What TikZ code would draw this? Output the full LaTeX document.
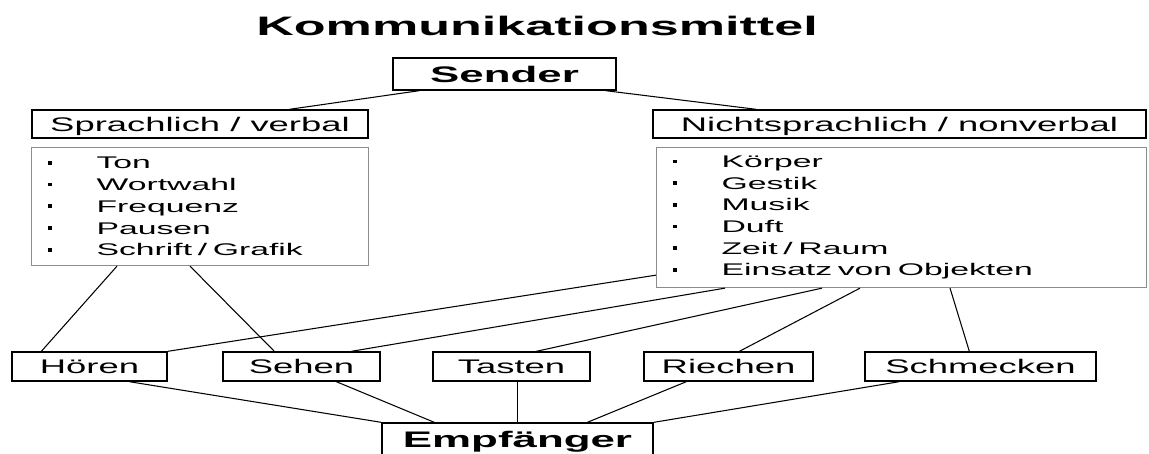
\documentclass[tikz,border=0pt]{standalone}
\usepackage{fontspec}
\setmainfont{Liberation Sans}[FakeStretch=1.85,BoldFeatures={FakeStretch=1.95}]
\newfontfamily\listfont{Liberation Sans}[FakeStretch=2.0]
\usepackage{tikz}
\definecolor{listgray}{gray}{0.55}
\newcommand{\itm}{\makebox[12.25mm][l]{\rule[1.05mm]{1.2mm}{0.9mm}}}

\begin{document}
\begin{tikzpicture}[x=0.25mm, y=-0.25mm,
  box/.style={draw, line width=0.95pt, inner sep=0pt, font=\fontsize{14pt}{16pt}\selectfont, text height=10pt, text depth=0pt},
  head/.style={box, font=\bfseries\fontsize{16pt}{18pt}\selectfont, text height=11.5pt},
  liste/.style={draw=listgray, line width=0.8pt, anchor=north west, inner xsep=4mm, inner ysep=0pt, align=left, font=\listfont\fontsize{12pt}{15.45pt}\selectfont},
  link/.style={line width=0.75pt}]
\useasboundingbox (0,0) rectangle (1149,453);
\clip (0,0) rectangle (1149,453);
\node[font=\bfseries\fontsize{19pt}{22pt}\selectfont, text height=13.7pt, text depth=0pt, inner sep=0pt] (titel) at (537,26) {Kommunikationsmittel};
\node[head, minimum width=55.75mm, minimum height=8mm] (sender) at (504.5,74) {Sender};
\node[box, minimum width=84mm, minimum height=7mm] (sprach) at (200,124) {Sprachlich / verbal};
\node[box, minimum width=123.25mm, minimum height=7mm] (nicht) at (899.5,124) {Nichtsprachlich / nonverbal};
\node[liste, text width=76.25mm, minimum height=29.5mm] (listeL) at (31,147) {\itm Ton\\ \itm Wortwahl\\ \itm Frequenz\\ \itm Pausen\\ \itm Schrift / Grafik};
\node[liste, text width=114.5mm, minimum height=35mm] (listeR) at (656,147) {\itm Körper\\ \itm Gestik\\ \itm Musik\\ \itm Duft\\ \itm Zeit / Raum\\ \itm Einsatz von Objekten};
\node[box, minimum width=38.75mm, minimum height=7.25mm] (hoeren) at (89.5,366.5) {Hören};
\node[box, minimum width=39.25mm, minimum height=7.25mm] (sehen) at (301.5,366.5) {Sehen};
\node[box, minimum width=39.25mm, minimum height=7.25mm] (tasten) at (511.5,366.5) {Tasten};
\node[box, minimum width=42.25mm, minimum height=7.25mm] (riechen) at (728.5,366.5) {Riechen};
\node[box, minimum width=57.75mm, minimum height=7.25mm] (schmecken) at (980.5,366.5) {Schmecken};
\node[head, minimum width=67.75mm, minimum height=8.25mm] (empf) at (517.5,439.5) {Empfänger};
\draw[link] ([xshift=6.75mm]sender.south west) -- ([xshift=64.5mm]sprach.north west);
\draw[link] ([xshift=-2.75mm]sender.south east) -- ([xshift=26mm]nicht.north west);
\draw[link] ([xshift=21.5mm]listeL.south west) -- ([xshift=7.5mm]hoeren.north west);
\draw[link] ([xshift=39.75mm]listeL.south west) -- ([xshift=13mm]sehen.north west);
\draw[link] ([yshift=3.25mm]listeR.south west) -- (hoeren.north east);
\draw[link] ([xshift=17.25mm]listeR.south west) -- ([xshift=32.25mm]sehen.north west);
\draw[link] ([xshift=41.5mm]listeR.south west) -- ([xshift=26mm]tasten.north west);
\draw[link] ([xshift=51mm]listeR.south west) -- ([xshift=24mm]riechen.north west);
\draw[link] ([xshift=73.5mm]listeR.south west) -- ([xshift=26.25mm]schmecken.north west);
\draw[link] ([xshift=29.5mm]hoeren.south west) -- (empf.north west);
\draw[link] ([xshift=28.5mm]sehen.south west) -- ([xshift=13.25mm]empf.north west);
\draw[link] (empf.north |- tasten.south) -- (empf.north);
\draw[link] ([xshift=10.75mm]riechen.south west) -- ([xshift=51.5mm]empf.north west);
\draw[link] ([xshift=8.75mm]schmecken.south west) -- (empf.north east);
\end{tikzpicture}
\end{document}
